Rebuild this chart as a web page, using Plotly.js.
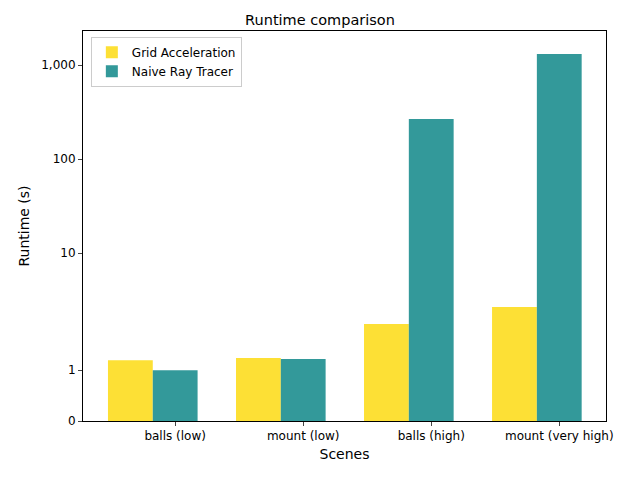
<!DOCTYPE html>
<html><head><meta charset="utf-8">
<script src="https://cdn.plot.ly/plotly-3.0.1.min.js"></script>
<style>body{margin:0}</style></head>
<body><div id="chart" style="width:640px;height:480px"></div>
<script>
let scenes=["balls (low)","mount (low)","balls (high)","mount (very high)"]
let gridTimes=[1.22,1.27,2.48,3.47]
let naiveTimes=[1.0,1.25,268,1315]
let tickValues=[0,1,10,100,1000]
let tickLabels=["0","1","10","100","1,000"]

// symlog-like mapping
function sy(v){
if(v<=1) return v*0.54
if(v<=10) return 0.54+Math.log10(v)*1.245
return 1.785+(Math.log10(v)-1)
}

let idx=scenes.map((s,i)=>i)

Plotly.newPlot("chart",[
{type:"bar",name:"Grid Acceleration",x:idx.map(i=>i-0.175),y:gridTimes.map(sy),width:0.35,marker:{color:"#fde035"}},
{type:"bar",name:"Naive Ray Tracer",x:idx.map(i=>i+0.175),y:naiveTimes.map(sy),width:0.35,marker:{color:"#33999a"}}
],{
width:640,height:480,
font:{family:"DejaVu Sans",size:12,color:"#000"},
title:{text:"Runtime comparison",x:0.5,y:0.97,font:{size:14.5}},
margin:{l:83,r:34,t:31,b:59},
barmode:"overlay",
showlegend:true,
legend:{x:0.015,y:0.985,xanchor:"left",yanchor:"top",bgcolor:"rgba(255,255,255,0.9)",bordercolor:"#ccc",borderwidth:1,font:{size:12}},
xaxis:{range:[-0.545,3.54],tickvals:idx.map(i=>i+0.175),ticktext:scenes,showgrid:false,zeroline:false,
showline:true,mirror:true,linecolor:"#000",ticks:"outside",ticklen:4,
title:{text:"Scenes",standoff:6}},
yaxis:{range:[0,4.149],tickvals:tickValues.map(sy),ticktext:tickLabels,showgrid:false,zeroline:false,
showline:true,mirror:true,linecolor:"#000",ticks:"outside",ticklen:4,
title:{text:"Runtime (s)",standoff:8}},
hovermode:false
},{displayModeBar:false})
</script></body></html>
